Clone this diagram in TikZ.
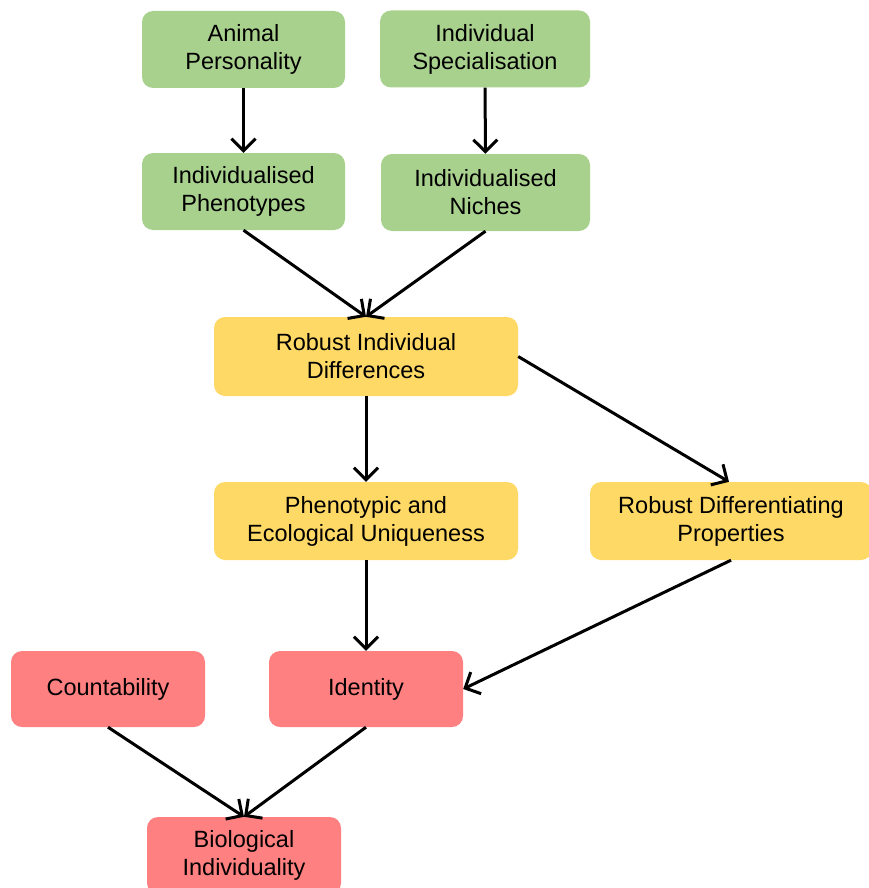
\documentclass[tikz,border=0pt]{standalone}
\usepackage{fontspec}
\setmainfont{Liberation Sans}
\usetikzlibrary{arrows.meta}
\definecolor{gbox}{HTML}{A9D18E}
\definecolor{ybox}{HTML}{FFD966}
\definecolor{rbox}{HTML}{FF8080}
\begin{document}
\begin{tikzpicture}[x=1pt,y=-1pt,
  box/.style={rounded corners=11pt, minimum height=77pt, align=center, inner sep=0pt,
    font=\fontsize{23.5}{28}\selectfont, text=black},
  gb/.style={box, fill=gbox},
  yb/.style={box, fill=ybox},
  rb/.style={box, fill=rbox},
  conn/.style={line width=3pt, -{Straight Barb[length=12pt,width=24pt,line width=3pt]}}
]
\useasboundingbox (0,0) rectangle (868,888);
\node[gb, minimum width=203pt] (ap) at (243.5,49.5) {Animal\\Personality};
\node[gb, minimum width=210pt] (is) at (485,49) {Individual\\Specialisation};
\node[gb, minimum width=203pt] (ip) at (243.5,191.5) {Individualised\\Phenotypes};
\node[gb, minimum width=209pt] (in) at (485.5,192.5) {Individualised\\Niches};
\node[yb, minimum width=304pt, minimum height=79pt] (rid) at (366,356.5) {Robust Individual\\Differences};
\node[yb, minimum width=304pt, minimum height=78pt] (peu) at (366,521) {Phenotypic and\\Ecological Uniqueness};
\node[yb, minimum width=282pt, minimum height=78pt] (rdp) at (731,521) {Robust Differentiating\\Properties};
\node[rb, minimum width=194pt, minimum height=76pt] (cnt) at (108,689) {Countability};
\node[rb, minimum width=194pt, minimum height=76pt] (idn) at (366,689) {Identity};
\node[rb, minimum width=194pt, minimum height=77pt] (bio) at (244,855.5) {Biological\\Individuality};
\draw[conn] (ap) -- (ip);
\draw[conn] (is) -- (in);
\draw[conn] (ip.south) -- (rid.north);
\draw[conn] (in.south) -- (rid.north);
\draw[conn] (rid) -- (peu);
\draw[conn] (rid.east) -- (rdp.north -| 729,0);
\draw[conn] (peu) -- (idn);
\draw[conn] (rdp.south) -- (idn.east);
\draw[conn] (cnt.south) -- (bio.north);
\draw[conn] (idn.south) -- (bio.north);
\end{tikzpicture}
\end{document}
